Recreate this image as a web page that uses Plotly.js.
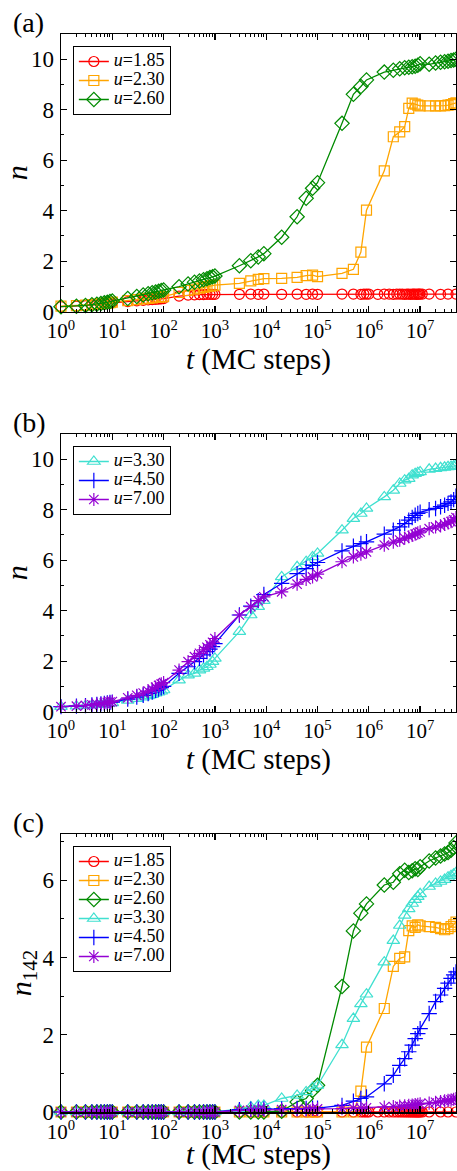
<!DOCTYPE html>
<html>
<head>
<meta charset="utf-8">
<script src="https://cdn.plot.ly/plotly-3.0.1.min.js"></script>
<style>html,body{margin:0;padding:0;background:#fff;}#chart{width:457px;height:1171px;}</style>
</head>
<body>
<div id="chart"></div>
<script>
// ---------- data ----------
const t = [1,2,3,4,5,6,7,8,9,10,
  20,30,40,50,60,70,80,90,100,
  200,300,400,500,600,700,800,900,1000,
  3000,5000,7000,9000,
  2e4,4e4,6e4,8e4,1e5,
  3e5,5e5,7e5,9e5,
  2e6,3e6,4e6,5e6,6e6,7e6,8e6,9e6,1e7,
  1.5e7,2e7,2.5e7,3e7,3.5e7,4e7,4.5e7,5e7];

const tRed = [1,2,3,4,5,6,7,8,9,10,
  20,30,40,50,60,70,80,90,100,
  200,300,400,500,600,700,800,900,1000,
  3000,5000,7000,9000,
  2e4,4e4,6e4,8e4,1e5,
  3e5,5e5,7e5,8e5,9e5,
  1e6,1.5e6,2e6,2.5e6,3e6,3.5e6,4e6,4.5e6,5e6,5.5e6,6e6,6.5e6,7e6,7.5e6,8e6,8.5e6,9e6,9.5e6,1e7,1.1e7,
  1.5e7,2.5e7,3.5e7,5e7];

// panel (a): n
const nA_185 = [0.20,0.22,0.24,0.26,0.28,0.30,0.31,0.33,0.34,0.35,
  0.40,0.43,0.45,0.47,0.48,0.49,0.50,0.51,0.52,
  0.62,0.66,0.67,0.68,0.68,0.69,0.69,0.69,0.69,
  0.69,0.70,0.69,0.70,
  0.69,0.70,0.69,0.70,0.69,
  0.70,0.70,0.69,0.70,0.70,
  0.70,0.69,0.70,0.70,0.69,0.70,0.70,0.70,0.69,0.70,0.70,0.69,0.70,0.70,0.70,0.69,0.70,0.70,0.70,0.70,
  0.70,0.69,0.70,0.70];
const nA_230 = [0.22,0.24,0.26,0.28,0.30,0.31,0.33,0.35,0.36,0.38,
  0.44,0.48,0.51,0.53,0.55,0.57,0.58,0.59,0.60,
  0.76,0.84,0.89,0.93,0.96,0.99,1.01,1.03,1.05,
  1.12,1.22,1.28,1.31,
  1.32,1.36,1.43,1.45,1.39,
  1.52,1.68,2.36,4.02,
  5.58,6.93,7.12,7.33,8.05,8.26,8.22,8.18,8.15,
  8.15,8.15,8.15,8.16,8.18,8.20,8.24,8.27];
const nA_260 = [0.20,0.22,0.25,0.28,0.30,0.32,0.35,0.37,0.40,0.42,
  0.52,0.60,0.66,0.71,0.75,0.78,0.81,0.84,0.86,
  0.99,1.10,1.17,1.22,1.27,1.31,1.35,1.38,1.41,
  1.82,2.02,2.17,2.30,
  2.95,3.76,4.49,4.89,5.11,
  7.46,8.61,8.92,9.18,
  9.49,9.56,9.62,9.66,9.68,9.70,9.72,9.76,9.82,
  9.80,9.85,9.88,9.90,9.92,9.95,9.97,10.0];

// panel (b): n
const nB_330 = [0.20,0.22,0.24,0.26,0.28,0.30,0.31,0.33,0.34,0.35,
  0.45,0.52,0.58,0.63,0.68,0.73,0.77,0.81,0.86,
  1.25,1.45,1.52,1.65,1.72,1.78,1.87,1.98,2.11,
  3.17,3.83,4.16,4.40,
  5.34,5.74,5.94,6.13,6.27,
  7.19,7.65,7.85,8.05,
  8.51,8.77,9.04,9.17,9.23,9.37,9.43,9.47,9.50,
  9.60,9.63,9.66,9.68,9.70,9.71,9.73,9.76];
const nB_450 = [0.20,0.22,0.24,0.27,0.29,0.31,0.33,0.35,0.37,0.38,
  0.50,0.58,0.65,0.72,0.78,0.84,0.90,0.95,1.00,
  1.52,1.78,1.98,2.11,2.25,2.38,2.48,2.58,2.70,
  3.83,4.18,4.40,4.64,
  5.08,5.47,5.67,5.80,5.91,
  6.37,6.56,6.66,6.73,
  7.03,7.19,7.32,7.45,7.59,7.69,7.78,7.85,7.90,
  8.00,8.05,8.12,8.18,8.25,8.31,8.40,8.54];
const nB_700 = [0.20,0.22,0.25,0.27,0.30,0.32,0.34,0.36,0.38,0.40,
  0.55,0.65,0.74,0.82,0.90,0.97,1.04,1.10,1.15,
  1.65,1.98,2.18,2.31,2.45,2.55,2.65,2.75,2.90,
  3.83,4.16,4.40,4.55,
  4.75,5.05,5.24,5.34,5.45,
  5.94,6.13,6.24,6.33,
  6.60,6.72,6.80,6.87,6.93,6.98,7.03,7.08,7.12,
  7.25,7.32,7.36,7.42,7.48,7.53,7.60,7.69];

// panel (c): n_142
const nC_185 = [0,0,0,0,0,0,0,0,0,0,
  0,0,0,0,0,0,0,0,0,
  0,0,0,0,0,0,0,0,0,
  0,0,0,0,
  0,0,0,0,0,
  0,0,0,0,0,
  0,0,0,0,0,0,0,0,0,0,0,0,0,0,0,0,0,0,0,0,
  0,0,0,0];
const nC_230 = [0,0,0,0,0,0,0,0,0,0,
  0,0,0,0,0,0,0,0,0,
  0,0,0,0,0,0,0,0,0,
  0,0,0,0,
  0,0,0,0,0,
  0,0,0.54,1.68,
  2.68,3.77,3.98,4.02,4.70,4.82,4.78,4.85,4.82,
  4.80,4.78,4.75,4.72,4.75,4.80,4.85,4.92];
const nC_260 = [0,0,0,0,0,0,0,0,0,0,
  0,0,0,0,0,0,0,0,0,
  0,0,0,0,0,0,0,0,0,
  0,0,0,0,
  0.02,0.26,0.35,0.56,0.69,
  3.25,4.69,5.15,5.39,
  5.88,5.95,6.17,6.26,6.20,6.25,6.30,6.28,6.35,
  6.50,6.58,6.63,6.68,6.72,6.78,6.85,6.97];
const nC_330 = [0,0,0,0,0,0,0,0,0,0,
  0,0,0,0,0,0,0,0,0,
  0,0,0,0,0,0,0,0,0,
  0.08,0.13,0.17,0.17,
  0.35,0.43,0.52,0.63,0.69,
  1.74,2.42,2.80,3.05,
  3.88,4.44,4.83,5.09,5.26,5.40,5.50,5.58,5.65,
  5.84,5.92,5.97,6.02,6.08,6.12,6.16,6.20];
const nC_450 = [0,0,0,0,0,0,0,0,0,0,
  0,0,0,0,0,0,0,0,0,
  0,0,0,0,0,0,0,0,0,
  0.06,0.07,0.07,0.08,
  0.08,0.09,0.09,0.10,0.10,
  0.17,0.28,0.35,0.39,
  0.73,0.95,1.21,1.38,1.56,1.73,1.90,2.03,2.16,
  2.55,2.86,3.03,3.20,3.34,3.46,3.55,3.63];
const nC_700 = [0,0,0,0,0,0,0,0,0,0,
  0,0,0,0,0,0,0,0,0,
  0,0,0,0,0,0,0,0,0,
  0.04,0.05,0.05,0.06,
  0.06,0.07,0.07,0.08,0.08,
  0.09,0.10,0.10,0.11,
  0.13,0.14,0.15,0.16,0.17,0.18,0.19,0.20,0.21,
  0.23,0.25,0.27,0.29,0.30,0.31,0.33,0.35];

const xTickVals = [1,10,100,1000,1e4,1e5,1e6,1e7];
const xTickText = ['10<sup>0</sup>','10<sup>1</sup>','10<sup>2</sup>','10<sup>3</sup>','10<sup>4</sup>','10<sup>5</sup>','10<sup>6</sup>','10<sup>7</sup>'];
const uLabels = {185:'1.85',230:'2.30',260:'2.60',330:'3.30',450:'4.50',700:'7.00'};

// ---------- styles ----------
const FONT = '"Liberation Serif", "Times New Roman", Times, serif';
const styles = {
  185:{color:'#FF0000', symbol:'circle-open', size:10},
  230:{color:'#FFA500', symbol:'square-open', size:10},
  260:{color:'#008B00', symbol:'diamond-open', size:11},
  330:{color:'#40E0D0', symbol:'triangle-up-open', size:11},
  450:{color:'#0000FF', symbol:'cross-thin-open', size:11},
  700:{color:'#9400D3', symbol:'asterisk-open', size:11}
};
function tr(key, x, y, xa, ya, leg){
  const s = styles[key];
  return {x:x, y:y, xaxis:xa, yaxis:ya, legend:leg, type:'scatter', mode:'lines+markers',
    name:'<span style="font-size:18px"><i>u</i>='+uLabels[key]+'</span>',
    cliponaxis:false,
    line:{color:s.color, width:1.3},
    marker:{symbol:s.symbol, size:s.size, color:s.color, line:{color:s.color, width:1.2}}};
}

const data = [
  tr(185, tRed, nA_185, 'x', 'y', 'legend'),
  tr(230, t, nA_230, 'x', 'y', 'legend'),
  tr(260, t, nA_260, 'x', 'y', 'legend'),
  tr(330, t, nB_330, 'x2', 'y2', 'legend2'),
  tr(450, t, nB_450, 'x2', 'y2', 'legend2'),
  tr(700, t, nB_700, 'x2', 'y2', 'legend2'),
  tr(185, tRed, nC_185, 'x3', 'y3', 'legend3'),
  tr(230, t, nC_230, 'x3', 'y3', 'legend3'),
  tr(260, t, nC_260, 'x3', 'y3', 'legend3'),
  tr(330, t, nC_330, 'x3', 'y3', 'legend3'),
  tr(450, t, nC_450, 'x3', 'y3', 'legend3'),
  tr(700, t, nC_700, 'x3', 'y3', 'legend3')
];

// ---------- layout ----------
const T = 34, B = 1112;
function dom(top, bottom){ return [1-(bottom-T)/(B-T), 1-(top-T)/(B-T)]; }
const minorX = [];
for (let k=0;k<8;k++){ for (let d=2; d<=9; d++){ const v=d*Math.pow(10,k); if (v<=5e7) minorX.push(v);} }

function xax(anchor){
  return {type:'log', anchor:anchor, range:[0, Math.log10(5e7)],
    tickmode:'array', tickvals:xTickVals, ticktext:xTickText,
    ticks:'inside', ticklen:6, tickwidth:1.3, tickcolor:'black',
    minor:{tickmode:'array', tickvals:minorX, ticks:'inside', ticklen:3, tickwidth:1, tickcolor:'black', showgrid:false},
    showline:true, linewidth:1.5, linecolor:'black', mirror:'allticks',
    showgrid:false, zeroline:false,
    tickfont:{family:FONT, size:21, color:'black'},
    title:{text:'<i>t</i> (MC steps)', font:{family:FONT, size:29, color:'black'}, standoff:4}};
}
function yax(anchor, domain, range, title){
  return {anchor:anchor, domain:domain, range:range, dtick:2, tick0:0,
    ticks:'inside', ticklen:6, tickwidth:1.3, tickcolor:'black',
    minor:{dtick:1, ticks:'inside', ticklen:3, tickwidth:1, tickcolor:'black', showgrid:false},
    showline:true, linewidth:1.5, linecolor:'black', mirror:'allticks',
    showgrid:false, zeroline:false, ticklabelstandoff:1,
    tickfont:{family:FONT, size:23, color:'black'},
    title:{text:title, font:{family:FONT, size:30, color:'black'}, standoff:0}};
}
function leg(ytop){
  return {x:0.03, y:ytop, xanchor:'left', yanchor:'top', bgcolor:'white', bordercolor:'black', borderwidth:1,
    font:{family:FONT, size:12, color:'black'}, itemwidth:30, tracegroupgap:0};
}
function px2y(py){ return 1-(py-T)/(B-T); }

const layout = {
  width:457, height:1171, paper_bgcolor:'white', plot_bgcolor:'white',
  margin:{l:61, r:1, t:34, b:59},
  showlegend:true,
  xaxis: xax('y'), xaxis2: xax('y2'), xaxis3: xax('y3'),
  yaxis: yax('x', dom(34, 311.7), [0, 11], '<i>n</i>'),
  yaxis2: yax('x2', dom(434, 711.7), [0, 11], '<i>n</i>'),
  yaxis3: yax('x3', dom(834, 1112), [0, 7.2], '<i>n</i><sub>142</sub>'),
  legend: leg(px2y(46)), legend2: leg(px2y(446)), legend3: leg(px2y(846)),
  annotations:[
    {text:'(a)', xref:'paper', yref:'paper', x:(11-61)/395, y:px2y(22), xanchor:'left', yanchor:'middle', showarrow:false, font:{family:FONT, size:28, color:'black'}},
    {text:'(b)', xref:'paper', yref:'paper', x:(11-61)/395, y:px2y(422), xanchor:'left', yanchor:'middle', showarrow:false, font:{family:FONT, size:28, color:'black'}},
    {text:'(c)', xref:'paper', yref:'paper', x:(11-61)/395, y:px2y(822), xanchor:'left', yanchor:'middle', showarrow:false, font:{family:FONT, size:28, color:'black'}}
  ]
};
Plotly.newPlot('chart', data, layout, {displayModeBar:false, staticPlot:true});
</script>
</body>
</html>
